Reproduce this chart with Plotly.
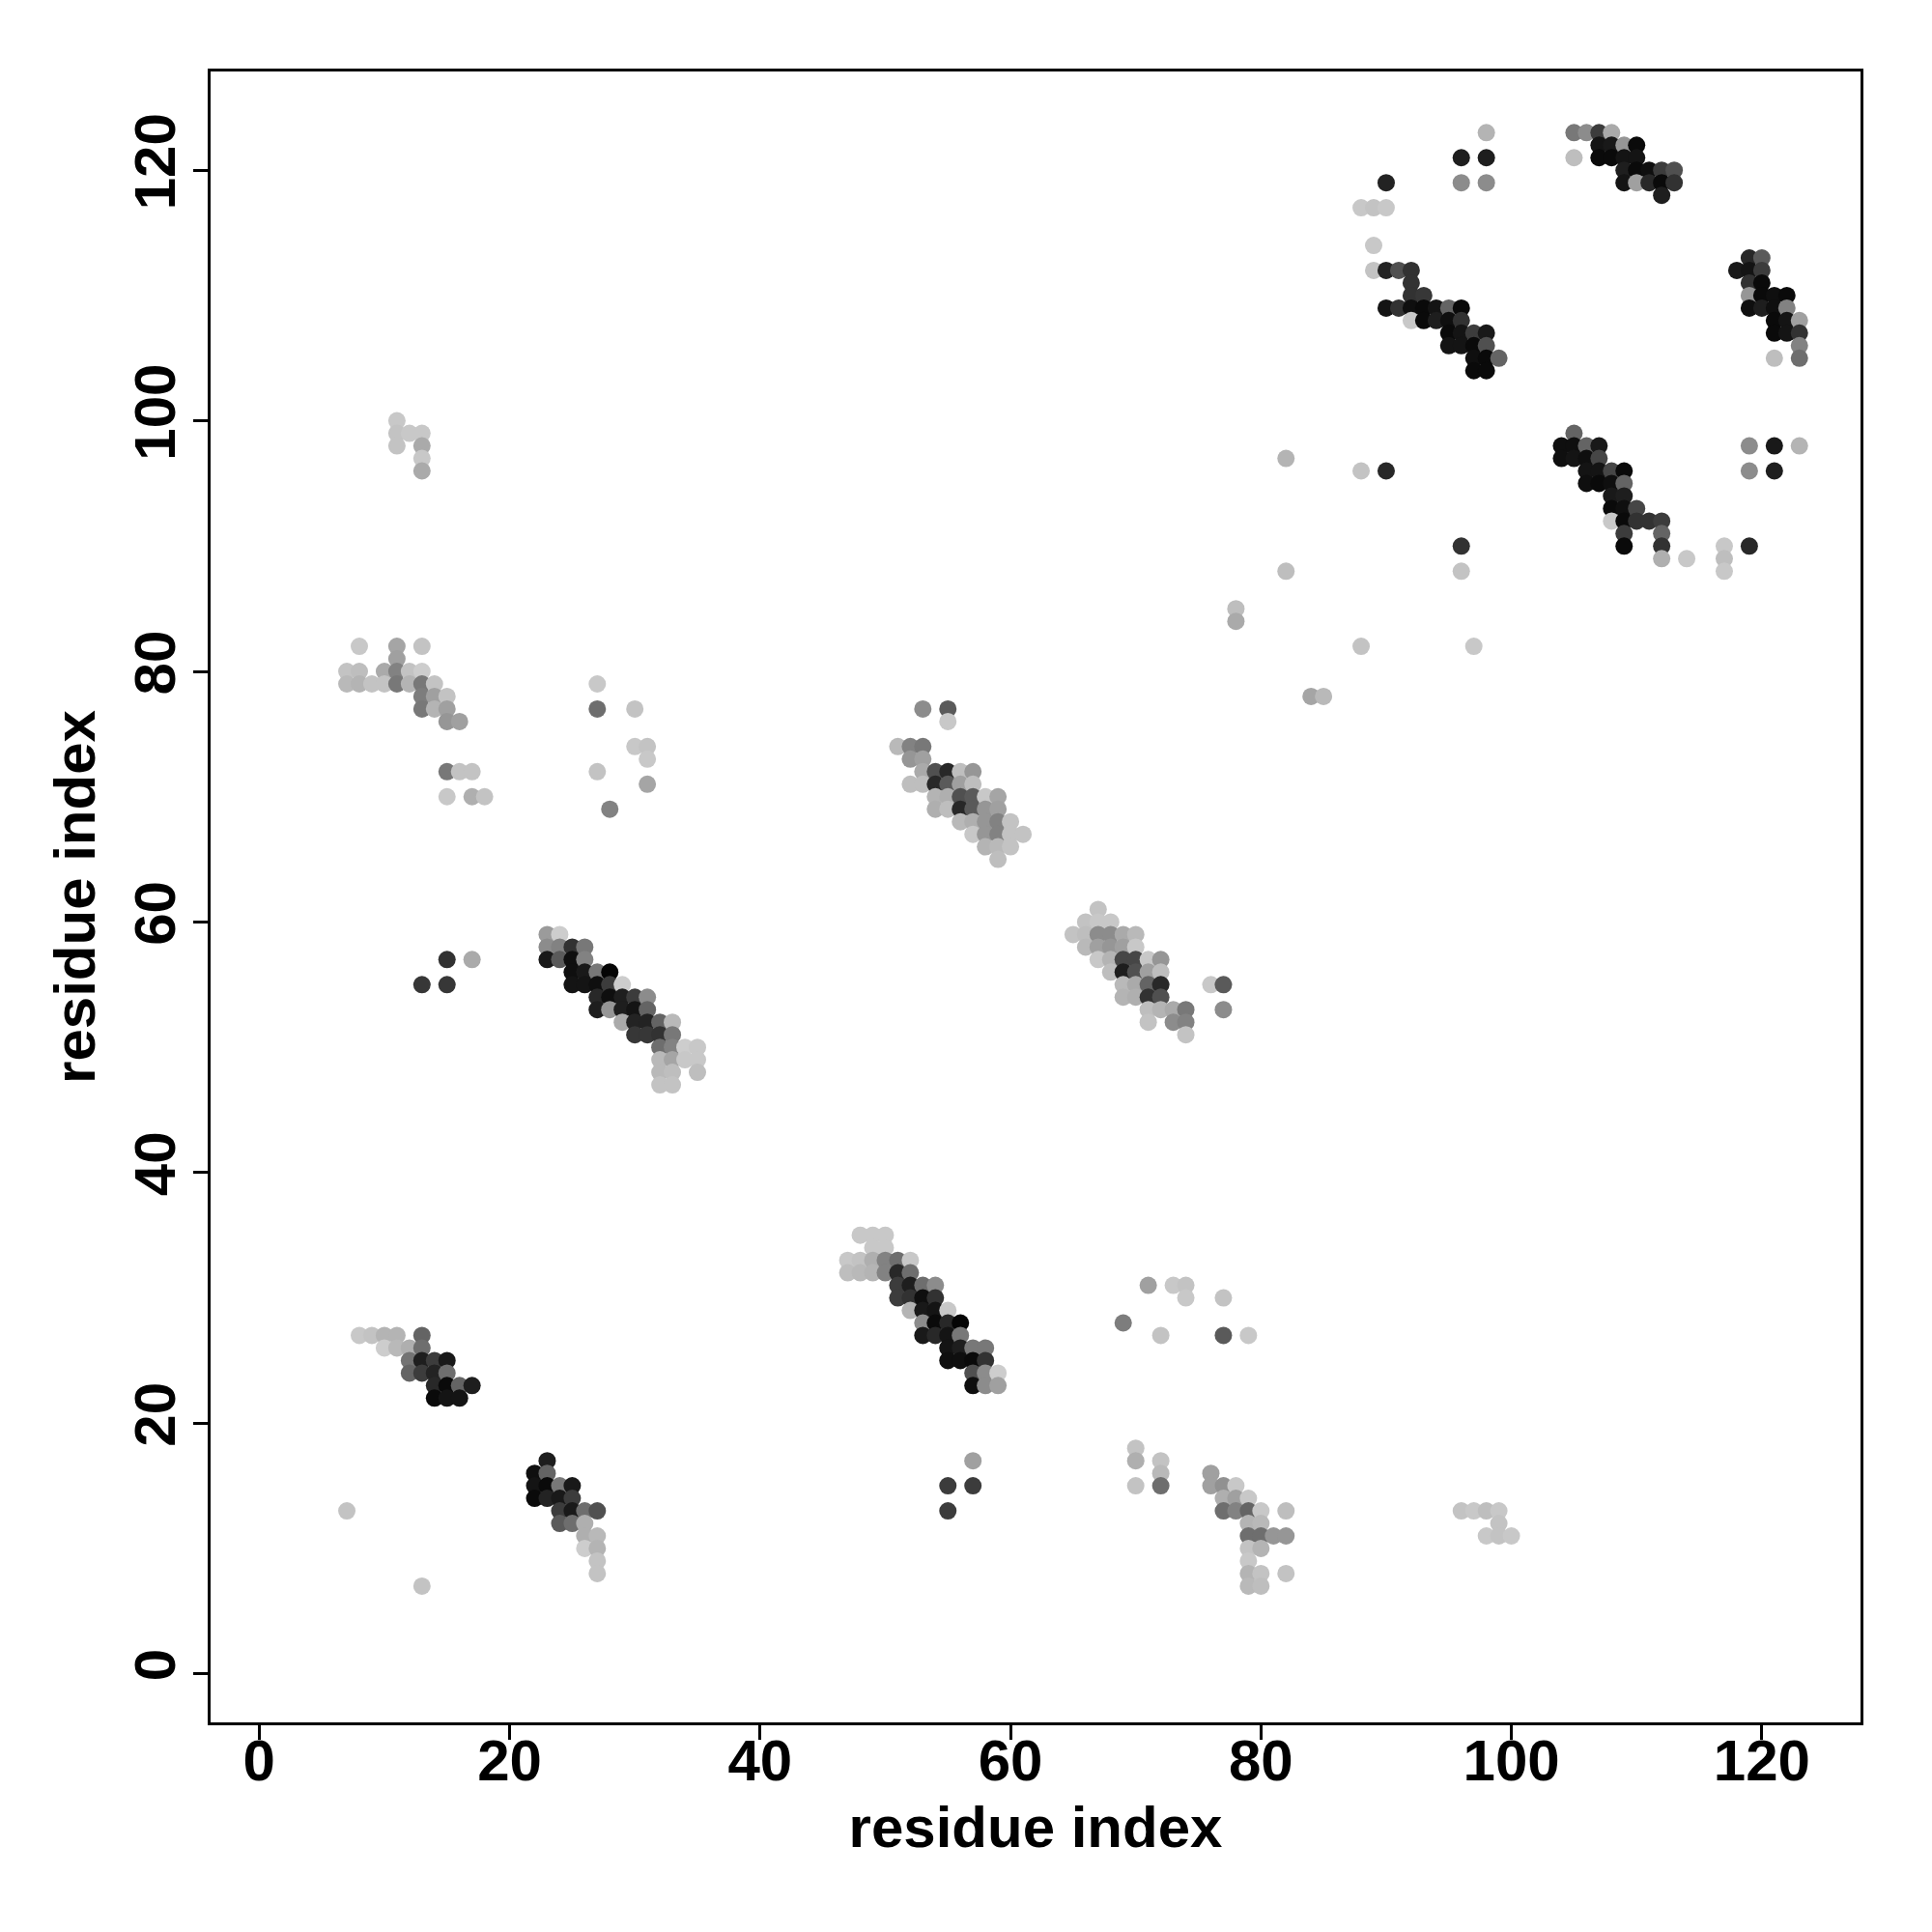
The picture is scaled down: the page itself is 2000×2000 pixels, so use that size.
import plotly.graph_objects as go

# Contact map: residue i (x), residue j (y), grey shade (0 = black, 210 = light grey)
res_x = [
    # upper-left sparse block
    11, 11, 11, 12, 13, 13, 13, 13,
    8, 11, 13, 11, 7, 8, 10, 11, 12, 13, 7, 8, 9, 10, 11, 12, 13, 14,
    13, 14, 15, 13, 14, 15, 15, 16, 15, 16, 17, 15, 17, 18,
    13, 15, 15, 17,
    # block around (27, 75)
    27, 27, 30, 30, 31, 31, 27, 31, 28,
    # strand 23-35 / 47-59
    23, 24, 23, 24, 25, 26, 23, 24, 25, 26, 25, 26, 27, 28, 25, 26, 27, 28, 29,
    27, 28, 29, 30, 31, 27, 28, 29, 30, 31, 29, 30, 31, 32, 33, 30, 31, 32, 33,
    32, 33, 34, 35, 32, 33, 34, 35, 32, 33, 35, 32, 33,
    # strand 8-17 / 22-27
    8, 9, 10, 11, 13, 10, 11, 12, 13, 12, 13, 14, 15, 12, 13, 14, 15, 14, 15, 16, 17, 14, 15, 16,
    7, 13,
    # strand 22-27 / 8-17
    23, 22, 23, 22, 23, 24, 25, 22, 23, 24, 25, 24, 25, 26, 27, 24, 25, 26, 26, 27, 26, 27, 27, 27,
    # strand 47-59 / 23-35
    48, 49, 50, 49, 50, 47, 48, 49, 50, 51, 52, 47, 48, 49, 50, 51, 52,
    51, 52, 53, 54, 51, 52, 53, 54, 52, 53, 54, 55, 53, 54, 55, 56, 53, 54, 55, 56,
    55, 56, 57, 58, 55, 56, 57, 58, 57, 58, 59, 57, 58, 59,
    57, 55, 57, 55,
    # strand 51-61 / 65-77
    53, 55, 55, 51, 52, 53, 52, 53, 53, 54, 55, 56, 57, 52, 53, 54, 55, 56, 57,
    54, 55, 56, 57, 58, 59, 54, 55, 56, 57, 58, 59, 56, 57, 58, 59, 60,
    57, 58, 59, 60, 61, 58, 59, 60, 59,
    # strand 65-77 / 51-61
    67, 66, 67, 68, 65, 66, 67, 68, 69, 70, 66, 67, 68, 69, 70,
    67, 68, 69, 70, 71, 72, 68, 69, 70, 71, 72, 69, 70, 71, 72, 76, 77,
    69, 70, 71, 72, 71, 72, 73, 74, 77, 71, 73, 74, 74,
    # block 69-82 / 7-31
    71, 73, 74, 74, 77, 69, 72, 77, 79,
    70, 70, 72, 72, 70, 72, 76, 76, 77, 78, 77, 78, 79, 77, 78, 79, 80, 82,
    79, 80, 79, 80, 81, 82, 79, 80, 79, 79, 80, 82, 79, 80,
    # sparse mid-right
    82, 88, 90, 82, 78, 78, 88, 84, 85, 97, 96, 96,
    96, 97, 98, 99, 99, 98, 99, 100,
    # block 88-99 / 104-123
    98, 96, 98, 96, 98, 90, 88, 89, 90, 89, 89, 90, 91, 92, 92, 92, 93,
    90, 91, 92, 93, 94, 95, 96, 92, 93, 94, 95, 96, 95, 96, 97, 98, 95, 96, 97, 98,
    97, 98, 99, 97, 98,
    # block 105-113 / 118-123
    105, 106, 107, 108, 107, 108, 109, 110, 105, 107, 108, 109, 110,
    109, 110, 111, 112, 113, 109, 110, 111, 112, 113, 112,
    # block 118-123 / 105-113
    119, 120, 118, 119, 120, 119, 120, 119, 120, 121, 122, 119, 120, 121, 122,
    121, 122, 123, 121, 122, 123, 123, 121, 123,
    # block 104-123 / 88-99
    105, 104, 105, 106, 107, 104, 105, 106, 107, 106, 107, 108, 109, 106, 107, 108, 109,
    108, 109, 108, 109, 110, 108, 109, 110, 111, 112, 109, 112, 109, 112,
    112, 114, 117, 117, 117, 119, 119, 121, 123, 119, 121,
]

res_y = [
    100, 99, 98, 99, 99, 98, 97, 96,
    82, 82, 82, 81, 80, 80, 80, 80, 80, 80, 79, 79, 79, 79, 79, 79, 79, 79,
    78, 78, 78, 77, 77, 77, 76, 76, 72, 72, 72, 70, 70, 70,
    55, 55, 57, 57,
    79, 77, 77, 74, 74, 73, 72, 71, 69,
    59, 59, 58, 58, 58, 58, 57, 57, 57, 57, 56, 56, 56, 56, 55, 55, 55, 55, 55,
    54, 54, 54, 54, 54, 53, 53, 53, 53, 53, 52, 52, 52, 52, 52, 51, 51, 51, 51,
    50, 50, 50, 50, 49, 49, 49, 49, 48, 48, 48, 47, 47,
    27, 27, 27, 27, 27, 26, 26, 26, 26, 25, 25, 25, 25, 24, 24, 24, 24, 23, 23, 23, 23, 22, 22, 22,
    13, 7,
    17, 16, 16, 15, 15, 15, 15, 14, 14, 14, 14, 13, 13, 13, 13, 12, 12, 12, 11, 11, 10, 10, 9, 8,
    35, 35, 35, 34, 34, 33, 33, 33, 33, 33, 33, 32, 32, 32, 32, 32, 32,
    31, 31, 31, 31, 30, 30, 30, 30, 29, 29, 29, 29, 28, 28, 28, 28, 27, 27, 27, 27,
    26, 26, 26, 26, 25, 25, 25, 25, 24, 24, 24, 23, 23, 23,
    17, 15, 15, 13,
    77, 77, 76, 74, 74, 74, 73, 73, 72, 72, 72, 72, 72, 71, 71, 71, 71, 71, 71,
    70, 70, 70, 70, 70, 70, 69, 69, 69, 69, 69, 69, 68, 68, 68, 68, 68,
    67, 67, 67, 67, 67, 66, 66, 66, 65,
    61, 60, 60, 60, 59, 59, 59, 59, 59, 59, 58, 58, 58, 58, 58,
    57, 57, 57, 57, 57, 57, 56, 56, 56, 56, 56, 55, 55, 55, 55, 55, 55,
    54, 54, 54, 54, 53, 53, 53, 53, 53, 52, 52, 52, 51,
    31, 31, 31, 30, 30, 28, 27, 27, 27,
    18, 17, 17, 16, 15, 15, 16, 15, 15, 15, 14, 14, 14, 13, 13, 13, 13, 13,
    12, 12, 11, 11, 11, 11, 10, 10, 9, 8, 8, 8, 7, 7,
    97, 96, 96, 88, 85, 84, 82, 78, 78, 82, 90, 88,
    13, 13, 13, 13, 12, 11, 11, 11,
    123, 121, 121, 119, 119, 119, 117, 117, 117, 114, 112, 112, 112, 112, 111, 110, 110,
    109, 109, 109, 109, 109, 109, 109, 108, 108, 108, 108, 108, 107, 107, 107, 107, 106, 106, 106, 106,
    105, 105, 105, 104, 104,
    123, 123, 123, 123, 122, 122, 122, 122, 121, 121, 121, 121, 121,
    120, 120, 120, 120, 120, 119, 119, 119, 119, 119, 118,
    113, 113, 112, 112, 112, 111, 111, 110, 110, 110, 110, 109, 109, 109, 109,
    108, 108, 108, 107, 107, 107, 106, 105, 105,
    99, 98, 98, 98, 98, 97, 97, 97, 97, 96, 96, 96, 96, 95, 95, 95, 95,
    94, 94, 93, 93, 93, 92, 92, 92, 92, 92, 91, 91, 90, 90,
    89, 89, 90, 89, 88, 90, 98, 98, 98, 96, 96,
]

shade = [
    200, 195, 195, 200, 200, 170, 200, 170,
    200, 165, 195, 160, 195, 190, 170, 130, 195, 205, 185, 180, 195, 195, 120, 180, 120, 195,
    125, 160, 195, 120, 180, 160, 150, 160, 120, 195, 195, 200, 175, 195,
    55, 55, 50, 170,
    200, 110, 195, 200, 195, 200, 195, 165, 130,
    155, 205, 140, 130, 50, 120, 25, 90, 15, 130, 15, 25, 120, 5, 20, 20, 15, 60, 205,
    40, 15, 30, 60, 140, 30, 150, 30, 20, 100, 170, 35, 35, 100, 185, 55, 55, 50, 120,
    110, 130, 205, 200, 185, 165, 200, 200, 185, 190, 190, 195, 195,
    200, 195, 180, 180, 100, 205, 185, 175, 110, 115, 30, 60, 25, 100, 60, 35, 110, 40, 10, 100, 30, 10, 20, 20,
    195, 195,
    30, 15, 100, 20, 10, 120, 25, 10, 35, 25, 60, 60, 25, 110, 80, 90, 110, 175, 175, 185, 205, 180, 195, 195,
    200, 200, 200, 200, 200, 200, 195, 175, 130, 110, 200, 190, 185, 180, 130, 40, 110,
    60, 30, 110, 140, 60, 50, 15, 50, 180, 25, 20, 200, 140, 10, 40, 5, 25, 40, 20, 120,
    20, 30, 120, 120, 15, 15, 10, 50, 80, 140, 205, 15, 140, 160,
    160, 60, 60, 60,
    140, 90, 200, 185, 130, 120, 150, 160, 170, 80, 40, 190, 150, 190, 190, 40, 90, 160, 190,
    180, 175, 80, 90, 200, 165, 175, 190, 40, 90, 150, 160, 185, 175, 150, 130, 195,
    200, 150, 130, 195, 195, 180, 185, 195, 190,
    195, 195, 200, 200, 195, 190, 140, 140, 170, 185, 185, 160, 150, 160, 200,
    200, 180, 70, 70, 200, 150, 190, 30, 80, 160, 190, 185, 170, 100, 40, 200, 90,
    180, 175, 50, 80, 190, 180, 170, 120, 140, 195, 140, 130, 195,
    160, 200, 195, 200, 195, 125, 195, 90, 200,
    195, 175, 195, 185, 195, 110, 160, 160, 145, 200, 175, 160, 200, 110, 130, 100, 200, 190,
    180, 185, 110, 110, 150, 150, 195, 180, 200, 180, 195, 195, 185, 190,
    180, 195, 40, 190, 190, 170, 195, 165, 185, 200, 50, 195,
    195, 200, 190, 200, 195, 200, 195, 200,
    180, 30, 30, 140, 140, 35, 200, 195, 200, 200, 195, 35, 80, 50, 50, 50, 55,
    20, 50, 15, 10, 20, 100, 10, 200, 10, 30, 15, 50, 10, 20, 60, 25, 20, 20, 10, 80,
    15, 10, 100, 10, 10,
    120, 140, 60, 170, 20, 25, 150, 10, 190, 10, 10, 20, 20,
    30, 10, 15, 60, 80, 20, 160, 40, 10, 50, 30,
    40, 90, 25, 20, 60, 50, 10, 150, 10, 15, 10, 15, 30, 15, 130,
    10, 20, 160, 10, 20, 50, 130, 190, 110,
    100, 15, 15, 100, 25, 15, 20, 15, 70, 20, 20, 70, 10, 15, 10, 15, 100,
    25, 30, 10, 15, 70, 200, 10, 50, 50, 60, 60, 100, 10, 50,
    175, 200, 200, 190, 200, 40, 140, 25, 180, 140, 30,
]

x_ticks = [0, 20, 40, 60, 80, 100, 120]
y_ticks = [0, 20, 40, 60, 80, 100, 120]
axis_label = "residue index"

fig = go.Figure()
fig.add_trace(go.Scatter(
    x=res_x, y=res_y, mode="markers",
    marker=dict(
        size=18,
        color=shade,
        colorscale=[[0, "rgb(5,5,5)"], [1, "rgb(210,210,210)"]],
        cmin=5, cmax=210,
        showscale=False,
        line=dict(width=0),
    ),
    hoverinfo="x+y",
    showlegend=False,
))

font_family = "Liberation Sans, Arial, Helvetica, sans-serif"
tick_font = dict(family=font_family, size=60, color="black", weight="bold")
title_font = dict(family=font_family, size=60, color="black", weight="bold")

axis_common = dict(
    range=[-3.88, 127.88],
    showgrid=False, zeroline=False,
    showline=True, linecolor="black", linewidth=2.5, mirror=True,
    ticks="outside", ticklen=15, tickwidth=2.5, tickcolor="black",
    tickfont=tick_font,
)

fig.update_layout(
    width=2000, height=2000,
    margin=dict(l=210, r=82, t=66, b=225),
    paper_bgcolor="white", plot_bgcolor="white",
    xaxis=dict(
        tickvals=x_ticks, ticktext=[str(v) for v in x_ticks],
        ticklabelstandoff=-30,
        title=dict(text=axis_label, font=title_font, standoff=16),
        **axis_common,
    ),
    yaxis=dict(
        tickvals=y_ticks, ticktext=[str(v) for v in y_ticks],
        tickangle=-90,
        ticklabelstandoff=-5,
        title=dict(text=axis_label, font=title_font, standoff=10),
        **axis_common,
    ),
)

fig.write_html("out.html")
